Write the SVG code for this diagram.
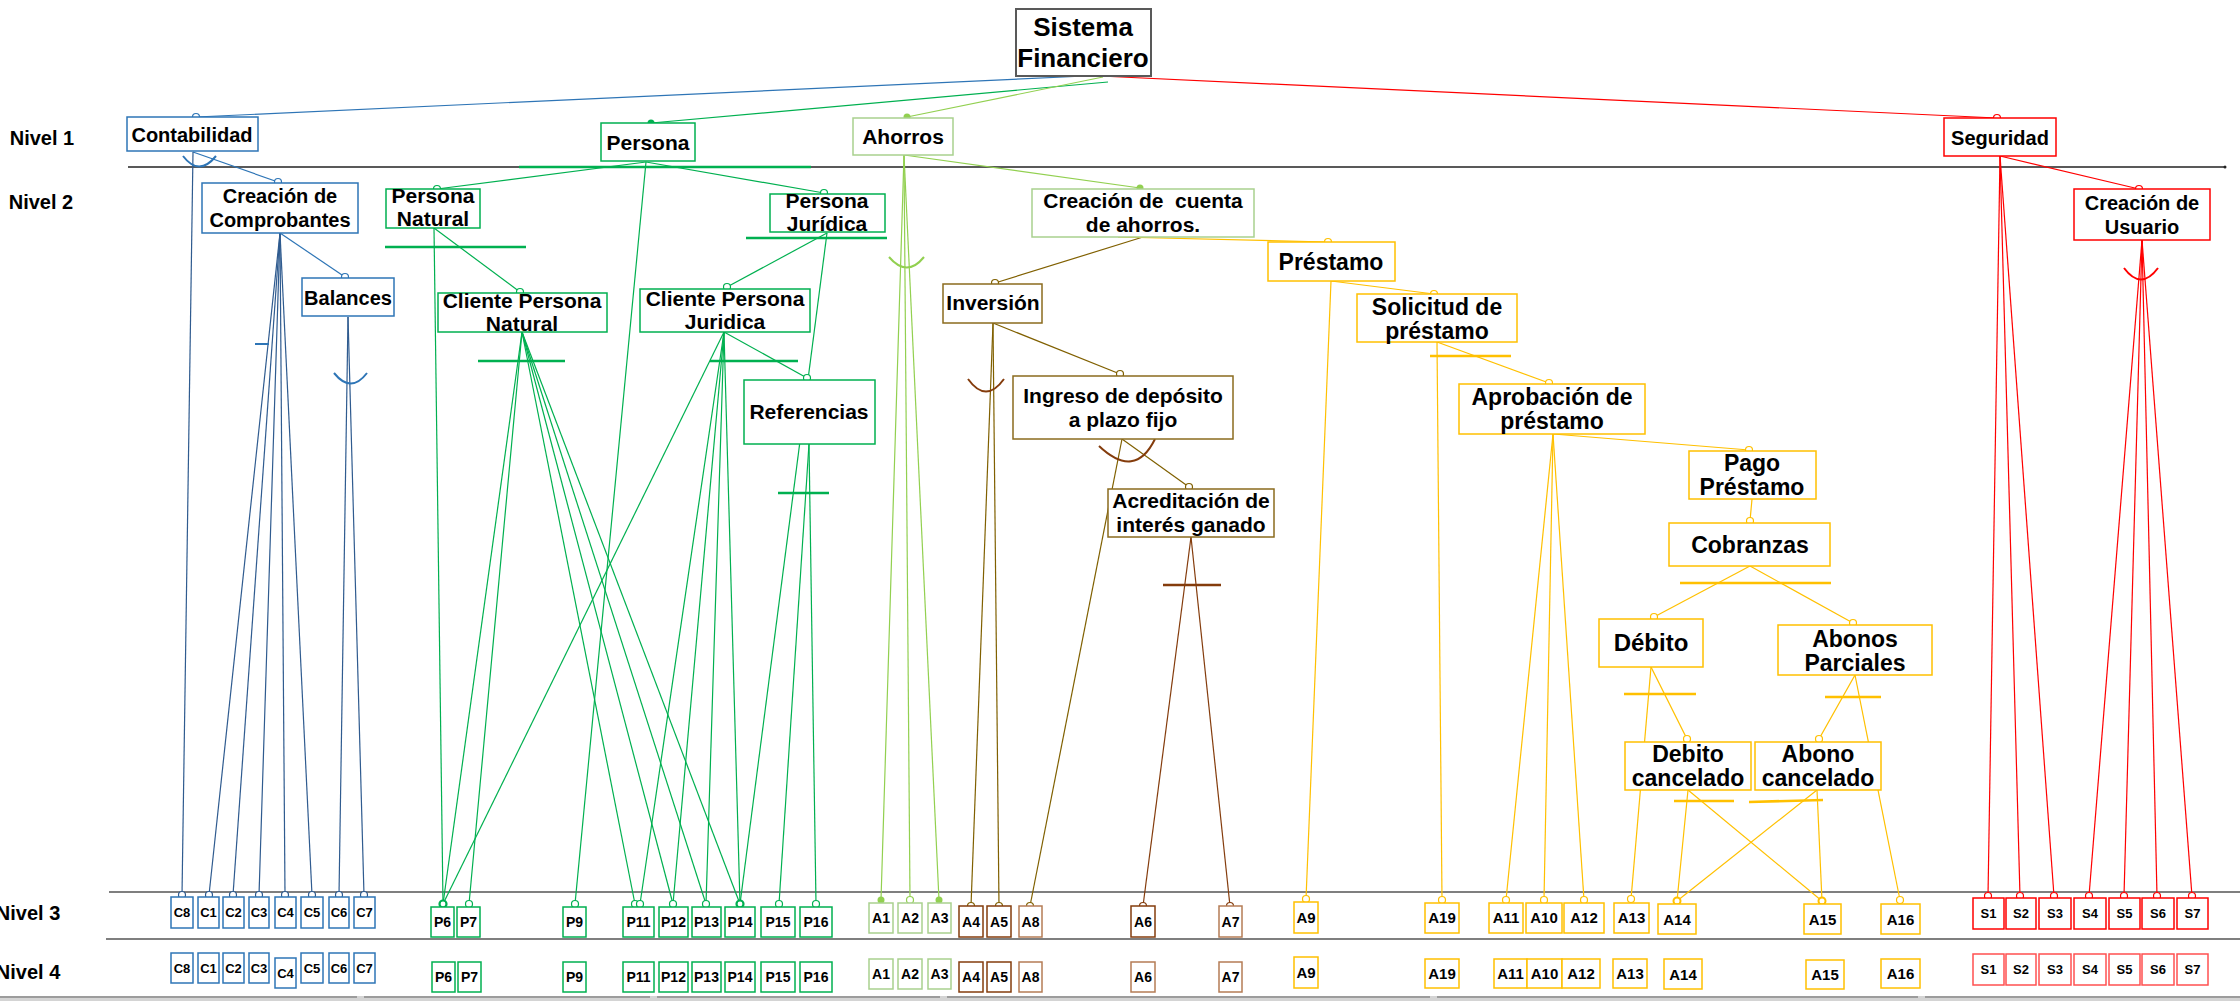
<svg xmlns="http://www.w3.org/2000/svg" width="2240" height="1001" viewBox="0 0 2240 1001">
<style>
.t{font-family:"Liberation Sans",Arial,sans-serif;font-weight:bold;fill:#000;text-anchor:middle}
.n{font-size:21px}.y{font-size:23px}.s{font-size:13px}.m{font-size:14px}.l{font-size:15px}
rect{fill:#fff;stroke-width:1.5}
line,path{fill:none;stroke-width:1.2}
circle{fill:#fff;stroke-width:1.2}
.kb{stroke:#2E75B6}.lb{stroke:#2F5B8F}
.kg{stroke:#00B050}.kl{stroke:#A9D18E}.ll{stroke:#92D050}
.ko{stroke:#8B6B1E}.lo{stroke:#806000}.kr{stroke:#843C0C}.kt{stroke:#B57C55}
.ky{stroke:#FFC000}.kred{stroke:#FF0000}.kp{stroke:#FF5050}
.bar{stroke-width:2.6}
.f{stroke:none}
</style>
<rect x="0" y="0" width="2240" height="1001" style="fill:#fff;stroke:none"/>
<g id="levels">
<line x1="128" y1="167" x2="2224" y2="167" style="stroke:#222;stroke-width:1.3"/>
<circle cx="2225" cy="167" r="1.5" style="fill:#222;stroke:none"/>
<line x1="109" y1="892" x2="2240" y2="892" style="stroke:#7f7f7f;stroke-width:2.2"/>
<line x1="106" y1="939" x2="2240" y2="939" style="stroke:#7f7f7f;stroke-width:2.2"/>
<rect x="0" y="996" width="2240" height="5" style="fill:#d4d4d4;stroke:none"/>
<line x1="0" y1="997" x2="357" y2="997" style="stroke:#8a8a8a;stroke-width:1.5"/>
<line x1="364" y1="997" x2="650" y2="997" style="stroke:#8a8a8a;stroke-width:1.5"/>
<line x1="657" y1="997" x2="940" y2="997" style="stroke:#8a8a8a;stroke-width:1.5"/>
<line x1="947" y1="997" x2="1430" y2="997" style="stroke:#8a8a8a;stroke-width:1.5"/>
<line x1="1437" y1="997" x2="1918" y2="997" style="stroke:#8a8a8a;stroke-width:1.5"/>
<line x1="1925" y1="997" x2="2240" y2="997" style="stroke:#8a8a8a;stroke-width:1.5"/>
<text class="t" x="42" y="145" style="font-size:20px">Nivel 1</text>
<text class="t" x="41" y="209" style="font-size:20px">Nivel 2</text>
<text class="t" x="28" y="920" style="font-size:20px">Nivel 3</text>
<text class="t" x="28" y="979" style="font-size:20px">Nivel 4</text>
</g>
<g id="connectors">
<!-- root -->
<line class="kb" x1="1085" y1="76" x2="196" y2="117"/>
<line class="kg" x1="1108" y1="82" x2="651" y2="123"/>
<line class="ll" x1="1103" y1="77" x2="907" y2="117"/>
<line class="kred" x1="1100" y1="76" x2="1997" y2="118"/>
<!-- contabilidad -->
<line class="kb" x1="193" y1="152" x2="278" y2="182"/>
<line class="lb" x1="193" y1="152" x2="182" y2="895"/>
<line class="lb" x1="280" y1="233" x2="209" y2="895"/>
<line class="lb" x1="280" y1="233" x2="233" y2="895"/>
<line class="lb" x1="280" y1="233" x2="259" y2="895"/>
<line class="lb" x1="280" y1="233" x2="285" y2="895"/>
<line class="lb" x1="280" y1="233" x2="312" y2="895"/>
<line class="kb" x1="280" y1="233" x2="345" y2="277"/>
<line class="lb" x1="348" y1="317" x2="339" y2="895"/>
<line class="lb" x1="348" y1="317" x2="364" y2="895"/>
<path class="kb" d="M183,156 Q199,177 216,156" style="stroke-width:2"/>
<path class="kb" d="M334,373 Q351,394 367,373" style="stroke-width:2"/>
<line class="kb bar" x1="255" y1="344" x2="269" y2="344" style="stroke-width:2"/>
<!-- persona -->
<line class="kg bar" x1="519" y1="167" x2="811" y2="167"/>
<line class="kg" x1="646" y1="162" x2="437" y2="189"/>
<line class="kg" x1="646" y1="162" x2="824" y2="193"/>
<line class="kg" x1="646" y1="162" x2="575" y2="904"/>
<line class="kg bar" x1="385" y1="247" x2="526" y2="247"/>
<line class="kg" x1="434" y1="228" x2="520" y2="292"/>
<line class="kg" x1="434" y1="228" x2="443" y2="904"/>
<line class="kg bar" x1="746" y1="238" x2="887" y2="238"/>
<line class="kg" x1="827" y1="233" x2="727" y2="287"/>
<line class="kg" x1="827" y1="233" x2="740" y2="904"/>
<line class="kg bar" x1="478" y1="361" x2="565" y2="361"/>
<line class="kg" x1="522" y1="332" x2="443" y2="904"/>
<line class="kg" x1="522" y1="332" x2="469" y2="904"/>
<line class="kg" x1="522" y1="332" x2="635" y2="904"/>
<line class="kg" x1="522" y1="332" x2="673" y2="904"/>
<line class="kg" x1="522" y1="332" x2="706" y2="904"/>
<line class="kg" x1="522" y1="332" x2="740" y2="904"/>
<line class="kg bar" x1="710" y1="361" x2="798" y2="361"/>
<line class="kg" x1="724" y1="332" x2="443" y2="904"/>
<line class="kg" x1="724" y1="332" x2="640" y2="904"/>
<line class="kg" x1="724" y1="332" x2="673" y2="904"/>
<line class="kg" x1="724" y1="332" x2="706" y2="904"/>
<line class="kg" x1="724" y1="332" x2="740" y2="904"/>
<line class="kg" x1="724" y1="332" x2="807" y2="378"/>
<line class="kg bar" x1="778" y1="493" x2="829" y2="493"/>
<line class="kg" x1="809" y1="444" x2="779" y2="904"/>
<line class="kg" x1="809" y1="444" x2="816" y2="904"/>
<!-- ahorros -->
<line class="ll" x1="904" y1="155" x2="1140" y2="188"/>
<line class="ll" x1="904" y1="155" x2="881" y2="900"/>
<line class="ll" x1="904" y1="155" x2="910" y2="900"/>
<line class="ll" x1="904" y1="155" x2="939" y2="900"/>
<path class="ll" d="M889,257 Q907,278 924,257" style="stroke-width:2"/>
<line class="lo" x1="1143" y1="237" x2="995" y2="283"/>
<line class="ky" x1="1118" y1="237" x2="1328" y2="242"/>
<line class="lo" x1="993" y1="323" x2="1120" y2="374"/>
<line class="lo" x1="993" y1="323" x2="971" y2="906"/>
<line class="lo" x1="993" y1="323" x2="999" y2="906"/>
<path class="kr" d="M968,379 Q986,404 1004,379" style="stroke-width:2"/>
<line class="lo" x1="1122" y1="439" x2="1189" y2="487"/>
<line class="lo" x1="1122" y1="439" x2="1030" y2="906"/>
<path class="kr" d="M1099,446 Q1135,480 1155,439" style="stroke-width:2"/>
<line class="kr" x1="1191" y1="537" x2="1143" y2="906"/>
<line class="kr" x1="1191" y1="537" x2="1230" y2="906"/>
<line class="kr bar" x1="1163" y1="585" x2="1221" y2="585"/>
<!-- prestamo -->
<line class="ky" x1="1331" y1="281" x2="1434" y2="294"/>
<line class="ky" x1="1331" y1="281" x2="1306" y2="899"/>
<line class="ky bar" x1="1430" y1="356" x2="1511" y2="356"/>
<line class="ky" x1="1437" y1="342" x2="1442" y2="900"/>
<line class="ky" x1="1437" y1="342" x2="1549" y2="383"/>
<line class="ky" x1="1553" y1="434" x2="1749" y2="450"/>
<line class="ky" x1="1553" y1="434" x2="1506" y2="900"/>
<line class="ky" x1="1553" y1="434" x2="1544" y2="900"/>
<line class="ky" x1="1553" y1="434" x2="1584" y2="900"/>
<line class="ky" x1="1752" y1="499" x2="1750" y2="521"/>
<line class="ky bar" x1="1680" y1="583" x2="1831" y2="583"/>
<line class="ky" x1="1750" y1="566" x2="1654" y2="617"/>
<line class="ky" x1="1750" y1="566" x2="1853" y2="623"/>
<line class="ky bar" x1="1624" y1="694" x2="1696" y2="694"/>
<line class="ky" x1="1651" y1="667" x2="1687" y2="739"/>
<line class="ky" x1="1651" y1="667" x2="1631" y2="899"/>
<line class="ky bar" x1="1825" y1="697" x2="1881" y2="697"/>
<line class="ky" x1="1855" y1="675" x2="1819" y2="739"/>
<line class="ky" x1="1855" y1="675" x2="1900" y2="900"/>
<line class="ky bar" x1="1674" y1="801" x2="1734" y2="801"/>
<line class="ky bar" x1="1749" y1="802" x2="1823" y2="800"/>
<line class="ky" x1="1688" y1="790" x2="1677" y2="901"/>
<line class="ky" x1="1688" y1="790" x2="1822" y2="901"/>
<line class="ky" x1="1817" y1="790" x2="1677" y2="901"/>
<line class="ky" x1="1817" y1="790" x2="1822" y2="901"/>
<!-- seguridad -->
<line class="kred" x1="2000" y1="156" x2="2139" y2="189"/>
<line class="kred" x1="2000" y1="156" x2="1988" y2="896"/>
<line class="kred" x1="2000" y1="156" x2="2020" y2="896"/>
<line class="kred" x1="2000" y1="156" x2="2054" y2="896"/>
<line class="kred" x1="2142" y1="240" x2="2089" y2="896"/>
<line class="kred" x1="2142" y1="240" x2="2124" y2="896"/>
<line class="kred" x1="2142" y1="240" x2="2157" y2="896"/>
<line class="kred" x1="2142" y1="240" x2="2192" y2="896"/>
<path class="kred" d="M2124,268 Q2141,291 2158,268" style="stroke-width:2"/>
<!-- end markers -->
<circle class="kb" cx="196" cy="117" r="3.5"/>
<circle class="kg f" cx="651" cy="123" r="3.5" style="fill:#00B050"/>
<circle class="ll f" cx="907" cy="117" r="3.5" style="fill:#92D050"/>
<circle class="kred" cx="1997" cy="118" r="3.5"/>
<circle class="kb" cx="278" cy="182" r="3.5"/>
<circle class="kb" cx="345" cy="277" r="3.5"/>
<circle class="kg" cx="437" cy="189" r="3.5"/>
<circle class="kg" cx="824" cy="193" r="3.5"/>
<circle class="kg" cx="520" cy="292" r="3.5"/>
<circle class="kg" cx="727" cy="287" r="3.5"/>
<circle class="kg" cx="807" cy="378" r="3.5"/>
<circle class="ll f" cx="1140" cy="188" r="3.5" style="fill:#92D050"/>
<circle class="lo" cx="995" cy="283" r="3.5"/>
<circle class="ky" cx="1328" cy="242" r="3.5"/>
<circle class="lo" cx="1120" cy="374" r="3.5"/>
<circle class="lo" cx="1189" cy="487" r="3.5"/>
<circle class="ky" cx="1434" cy="294" r="3.5"/>
<circle class="ky" cx="1549" cy="383" r="3.5"/>
<circle class="ky" cx="1749" cy="450" r="3.5"/>
<circle class="ky" cx="1750" cy="521" r="3.5"/>
<circle class="ky" cx="1654" cy="617" r="3.5"/>
<circle class="ky" cx="1853" cy="623" r="3.5"/>
<circle class="ky" cx="1687" cy="739" r="3.5"/>
<circle class="ky" cx="1819" cy="739" r="3.5"/>
<circle class="kred" cx="2139" cy="189" r="3.5"/>
<circle class="lb" cx="182" cy="895" r="3.5"/>
<circle class="lb" cx="209" cy="895" r="3.5"/>
<circle class="lb" cx="233" cy="895" r="3.5"/>
<circle class="lb" cx="259" cy="895" r="3.5"/>
<circle class="lb" cx="285" cy="895" r="3.5"/>
<circle class="lb" cx="312" cy="895" r="3.5"/>
<circle class="lb" cx="339" cy="895" r="3.5"/>
<circle class="lb" cx="364" cy="895" r="3.5"/>
<circle class="kg" cx="443" cy="904" r="3.5" style="stroke-width:2.2"/>
<circle class="kg" cx="469" cy="904" r="3.5"/>
<circle class="kg" cx="575" cy="904" r="3.5"/>
<circle class="kg" cx="635" cy="904" r="3.5"/>
<circle class="kg" cx="640" cy="904" r="3.5"/>
<circle class="kg" cx="673" cy="904" r="3.5"/>
<circle class="kg" cx="706" cy="904" r="3.5"/>
<circle class="kg" cx="740" cy="904" r="3.5" style="stroke-width:2.2"/>
<circle class="kg" cx="779" cy="904" r="3.5"/>
<circle class="kg" cx="816" cy="904" r="3.5"/>
<circle class="ll f" cx="881" cy="900" r="3.5" style="fill:#92D050"/>
<circle class="ll" cx="910" cy="900" r="3.5"/>
<circle class="ll f" cx="939" cy="900" r="3.5" style="fill:#92D050"/>
<circle class="lo" cx="971" cy="906" r="3.5"/>
<circle class="lo" cx="999" cy="906" r="3.5"/>
<circle class="lo" cx="1030" cy="906" r="3.5"/>
<circle class="kr" cx="1143" cy="906" r="3.5"/>
<circle class="kr" cx="1230" cy="906" r="3.5"/>
<circle class="ky" cx="1306" cy="899" r="3.5"/>
<circle class="ky" cx="1442" cy="900" r="3.5"/>
<circle class="ky" cx="1506" cy="900" r="3.5"/>
<circle class="ky" cx="1544" cy="900" r="3.5"/>
<circle class="ky" cx="1584" cy="900" r="3.5"/>
<circle class="ky" cx="1631" cy="899" r="3.5"/>
<circle class="ky" cx="1677" cy="901" r="3.5" style="stroke-width:2"/>
<circle class="ky" cx="1822" cy="901" r="3.5" style="stroke-width:2"/>
<circle class="ky" cx="1900" cy="900" r="3.5"/>
<circle class="kred" cx="1988" cy="896" r="3.5"/>
<circle class="kred" cx="2020" cy="896" r="3.5"/>
<circle class="kred" cx="2054" cy="896" r="3.5"/>
<circle class="kred" cx="2089" cy="896" r="3.5"/>
<circle class="kred" cx="2124" cy="896" r="3.5"/>
<circle class="kred" cx="2157" cy="896" r="3.5"/>
<circle class="kred" cx="2192" cy="896" r="3.5"/>
</g>
<g id="sistema"><rect x="1016" y="9" width="135" height="67" style="stroke:#595959;stroke-width:2"/><text class="t" x="1083" y="36" style="font-size:26px">Sistema</text><text class="t" x="1083" y="67" style="font-size:26px">Financiero</text></g>
<g id="contabilidad"><rect class="kb" x="127" y="117" width="131" height="34"/><text class="t" x="192" y="142" style="font-size:20px">Contabilidad</text></g>
<g id="persona"><rect class="kg" x="601" y="123" width="94" height="38"/><text class="t n" x="648" y="150">Persona</text></g>
<g id="ahorros"><rect class="kl" x="853" y="118" width="100" height="37"/><text class="t n" x="903" y="144">Ahorros</text></g>
<g id="seguridad"><rect class="kred" x="1944" y="118" width="112" height="38"/><text class="t" x="2000" y="145" style="font-size:20px">Seguridad</text></g>
<g id="comprobantes"><rect class="kb" x="202" y="183" width="156" height="50"/><text class="t" x="280" y="203" style="font-size:20px">Creación de</text><text class="t" x="280" y="227" style="font-size:20px">Comprobantes</text></g>
<g id="persona-natural"><rect class="kg" x="386" y="189" width="94" height="39"/><text class="t n" x="433" y="203">Persona</text><text class="t n" x="433" y="226">Natural</text></g>
<g id="persona-juridica"><rect class="kg" x="770" y="194" width="115" height="38"/><text class="t n" x="827" y="208">Persona</text><text class="t n" x="827" y="231">Jurídica</text></g>
<g id="cuenta-ahorros"><rect class="kl" x="1032" y="189" width="222" height="48"/><text class="t n" x="1143" y="208">Creación de&#160; cuenta</text><text class="t n" x="1143" y="232">de ahorros.</text></g>
<g id="creacion-usuario"><rect class="kred" x="2074" y="189" width="136" height="51"/><text class="t" x="2142" y="210" style="font-size:20px">Creación de</text><text class="t" x="2142" y="234" style="font-size:20px">Usuario</text></g>
<g id="balances"><rect class="kb" x="302" y="278" width="92" height="38"/><text class="t" x="348" y="305" style="font-size:20px">Balances</text></g>
<g id="cliente-natural"><rect class="kg" x="438" y="293" width="169" height="39"/><text class="t n" x="522" y="308">Cliente Persona</text><text class="t n" x="522" y="331">Natural</text></g>
<g id="cliente-juridica"><rect class="kg" x="640" y="289" width="170" height="43"/><text class="t n" x="725" y="306">Cliente Persona</text><text class="t n" x="725" y="329">Juridica</text></g>
<g id="referencias"><rect class="kg" x="744" y="380" width="131" height="64"/><text class="t n" x="809" y="419">Referencias</text></g>
<g id="inversion"><rect class="ko" x="943" y="284" width="99" height="39"/><text class="t n" x="993" y="310">Inversión</text></g>
<g id="ingreso"><rect class="ko" x="1013" y="376" width="220" height="63"/><text class="t n" x="1123" y="403">Ingreso de depósito</text><text class="t n" x="1123" y="427">a plazo fijo</text></g>
<g id="acreditacion"><rect class="ko" x="1108" y="489" width="166" height="48"/><text class="t n" x="1191" y="508">Acreditación de</text><text class="t n" x="1191" y="532">interés ganado</text></g>
<g id="prestamo"><rect class="ky" x="1268" y="242" width="127" height="39"/><text class="t y" x="1331" y="270">Préstamo</text></g>
<g id="solicitud"><rect class="ky" x="1357" y="294" width="160" height="48"/><text class="t y" x="1437" y="315">Solicitud de</text><text class="t y" x="1437" y="339">préstamo</text></g>
<g id="aprobacion"><rect class="ky" x="1459" y="384" width="186" height="50"/><text class="t y" x="1552" y="405">Aprobación de</text><text class="t y" x="1552" y="429">préstamo</text></g>
<g id="pago"><rect class="ky" x="1689" y="451" width="127" height="48"/><text class="t y" x="1752" y="471">Pago</text><text class="t y" x="1752" y="495">Préstamo</text></g>
<g id="cobranzas"><rect class="ky" x="1669" y="523" width="161" height="43"/><text class="t y" x="1750" y="553">Cobranzas</text></g>
<g id="debito"><rect class="ky" x="1599" y="619" width="104" height="48"/><text class="t" x="1651" y="651" style="font-size:24px">Débito</text></g>
<g id="abonos"><rect class="ky" x="1778" y="625" width="154" height="50"/><text class="t y" x="1855" y="647">Abonos</text><text class="t y" x="1855" y="671">Parciales</text></g>
<g id="debito-cancelado"><rect class="ky" x="1625" y="742" width="126" height="48"/><text class="t y" x="1688" y="762">Debito</text><text class="t y" x="1688" y="786">cancelado</text></g>
<g id="abono-cancelado"><rect class="ky" x="1755" y="742" width="126" height="48"/><text class="t y" x="1818" y="762">Abono</text><text class="t y" x="1818" y="786">cancelado</text></g>
<!-- level 3 -->
<g id="n3-C8"><rect class="kb" x="171" y="897" width="22" height="31"/><text class="t s" x="182" y="917">C8</text></g>
<g id="n3-C1"><rect class="kb" x="198" y="897" width="21" height="31"/><text class="t s" x="208.5" y="917">C1</text></g>
<g id="n3-C2"><rect class="kb" x="223" y="897" width="21" height="31"/><text class="t s" x="233.5" y="917">C2</text></g>
<g id="n3-C3"><rect class="kb" x="249" y="897" width="20" height="31"/><text class="t s" x="259" y="917">C3</text></g>
<g id="n3-C4"><rect class="kb" x="275" y="897" width="21" height="31"/><text class="t s" x="285.5" y="917">C4</text></g>
<g id="n3-C5"><rect class="kb" x="301" y="897" width="22" height="31"/><text class="t s" x="312" y="917">C5</text></g>
<g id="n3-C6"><rect class="kb" x="329" y="897" width="20" height="31"/><text class="t s" x="339" y="917">C6</text></g>
<g id="n3-C7"><rect class="kb" x="354" y="897" width="21" height="31"/><text class="t s" x="364.5" y="917">C7</text></g>
<g id="n3-P6"><rect class="kg" x="431" y="907" width="23" height="30"/><text class="t m" x="442.5" y="927">P6</text></g>
<g id="n3-P7"><rect class="kg" x="457" y="907" width="23" height="30"/><text class="t m" x="468.5" y="927">P7</text></g>
<g id="n3-P9"><rect class="kg" x="563" y="907" width="23" height="30"/><text class="t m" x="574.5" y="927">P9</text></g>
<g id="n3-P11"><rect class="kg" x="623" y="907" width="31" height="30"/><text class="t m" x="638.5" y="927">P11</text></g>
<g id="n3-P12"><rect class="kg" x="659" y="907" width="29" height="30"/><text class="t m" x="673.5" y="927">P12</text></g>
<g id="n3-P13"><rect class="kg" x="692" y="907" width="29" height="30"/><text class="t m" x="706.5" y="927">P13</text></g>
<g id="n3-P14"><rect class="kg" x="725" y="907" width="30" height="30"/><text class="t m" x="740" y="927">P14</text></g>
<g id="n3-P15"><rect class="kg" x="761" y="907" width="34" height="30"/><text class="t m" x="778" y="927">P15</text></g>
<g id="n3-P16"><rect class="kg" x="800" y="907" width="32" height="30"/><text class="t m" x="816" y="927">P16</text></g>
<g id="n3-A1"><rect class="kl" x="869" y="903" width="24" height="30"/><text class="t m" x="881" y="923">A1</text></g>
<g id="n3-A2"><rect class="kl" x="898" y="903" width="24" height="30"/><text class="t m" x="910" y="923">A2</text></g>
<g id="n3-A3"><rect class="kl" x="928" y="903" width="23" height="30"/><text class="t m" x="939.5" y="923">A3</text></g>
<g id="n3-A4"><rect class="kr" x="959" y="906" width="24" height="31"/><text class="t m" x="971" y="927">A4</text></g>
<g id="n3-A5"><rect class="kr" x="987" y="906" width="24" height="31"/><text class="t m" x="999" y="927">A5</text></g>
<g id="n3-A8"><rect class="kt" x="1019" y="906" width="23" height="31"/><text class="t m" x="1030.5" y="927">A8</text></g>
<g id="n3-A6"><rect class="kr" x="1131" y="906" width="24" height="31"/><text class="t m" x="1143" y="927">A6</text></g>
<g id="n3-A7"><rect class="kt" x="1219" y="906" width="23" height="31"/><text class="t m" x="1230.5" y="927">A7</text></g>
<g id="n3-A9"><rect class="ky" x="1294" y="902" width="24" height="31"/><text class="t l" x="1306" y="923">A9</text></g>
<g id="n3-A19"><rect class="ky" x="1425" y="903" width="34" height="30"/><text class="t l" x="1442" y="923">A19</text></g>
<g id="n3-A11"><rect class="ky" x="1489" y="903" width="34" height="30"/><text class="t l" x="1506" y="923">A11</text></g>
<g id="n3-A10"><rect class="ky" x="1526" y="903" width="36" height="30"/><text class="t l" x="1544" y="923">A10</text></g>
<g id="n3-A12"><rect class="ky" x="1564" y="903" width="40" height="30"/><text class="t l" x="1584" y="923">A12</text></g>
<g id="n3-A13"><rect class="ky" x="1614" y="903" width="35" height="30"/><text class="t l" x="1631.5" y="923">A13</text></g>
<g id="n3-A14"><rect class="ky" x="1658" y="904" width="38" height="30"/><text class="t l" x="1677" y="925">A14</text></g>
<g id="n3-A15"><rect class="ky" x="1804" y="904" width="37" height="30"/><text class="t l" x="1822.5" y="925">A15</text></g>
<g id="n3-A16"><rect class="ky" x="1881" y="904" width="39" height="30"/><text class="t l" x="1900.5" y="925">A16</text></g>
<g id="n3-S1"><rect class="kred" x="1973" y="898" width="31" height="31"/><text class="t s" x="1988.5" y="918">S1</text></g>
<g id="n3-S2"><rect class="kred" x="2006" y="898" width="30" height="31"/><text class="t s" x="2021" y="918">S2</text></g>
<g id="n3-S3"><rect class="kred" x="2039" y="898" width="32" height="31"/><text class="t s" x="2055" y="918">S3</text></g>
<g id="n3-S4"><rect class="kred" x="2074" y="898" width="32" height="31"/><text class="t s" x="2090" y="918">S4</text></g>
<g id="n3-S5"><rect class="kred" x="2109" y="898" width="31" height="31"/><text class="t s" x="2124.5" y="918">S5</text></g>
<g id="n3-S6"><rect class="kred" x="2142" y="898" width="32" height="31"/><text class="t s" x="2158" y="918">S6</text></g>
<g id="n3-S7"><rect class="kred" x="2177" y="898" width="31" height="31"/><text class="t s" x="2192.5" y="918">S7</text></g>
<!-- level 4 -->
<g id="n4-C8"><rect class="kb" x="171" y="953" width="22" height="30"/><text class="t s" x="182" y="973">C8</text></g>
<g id="n4-C1"><rect class="kb" x="198" y="953" width="21" height="30"/><text class="t s" x="208.5" y="973">C1</text></g>
<g id="n4-C2"><rect class="kb" x="223" y="953" width="21" height="30"/><text class="t s" x="233.5" y="973">C2</text></g>
<g id="n4-C3"><rect class="kb" x="249" y="953" width="20" height="30"/><text class="t s" x="259" y="973">C3</text></g>
<g id="n4-C4"><rect class="kb" x="275" y="958" width="21" height="30"/><text class="t s" x="285.5" y="978">C4</text></g>
<g id="n4-C5"><rect class="kb" x="301" y="953" width="22" height="30"/><text class="t s" x="312" y="973">C5</text></g>
<g id="n4-C6"><rect class="kb" x="329" y="953" width="20" height="30"/><text class="t s" x="339" y="973">C6</text></g>
<g id="n4-C7"><rect class="kb" x="354" y="953" width="21" height="30"/><text class="t s" x="364.5" y="973">C7</text></g>
<g id="n4-P6"><rect class="kg" x="432" y="962" width="23" height="30"/><text class="t m" x="443.5" y="982">P6</text></g>
<g id="n4-P7"><rect class="kg" x="458" y="962" width="23" height="30"/><text class="t m" x="469.5" y="982">P7</text></g>
<g id="n4-P9"><rect class="kg" x="563" y="962" width="23" height="30"/><text class="t m" x="574.5" y="982">P9</text></g>
<g id="n4-P11"><rect class="kg" x="623" y="962" width="31" height="30"/><text class="t m" x="638.5" y="982">P11</text></g>
<g id="n4-P12"><rect class="kg" x="659" y="962" width="29" height="30"/><text class="t m" x="673.5" y="982">P12</text></g>
<g id="n4-P13"><rect class="kg" x="692" y="962" width="29" height="30"/><text class="t m" x="706.5" y="982">P13</text></g>
<g id="n4-P14"><rect class="kg" x="725" y="962" width="30" height="30"/><text class="t m" x="740" y="982">P14</text></g>
<g id="n4-P15"><rect class="kg" x="761" y="962" width="34" height="30"/><text class="t m" x="778" y="982">P15</text></g>
<g id="n4-P16"><rect class="kg" x="800" y="962" width="32" height="30"/><text class="t m" x="816" y="982">P16</text></g>
<g id="n4-A1"><rect class="kl" x="869" y="959" width="24" height="30"/><text class="t m" x="881" y="979">A1</text></g>
<g id="n4-A2"><rect class="kl" x="898" y="959" width="24" height="30"/><text class="t m" x="910" y="979">A2</text></g>
<g id="n4-A3"><rect class="kl" x="928" y="959" width="23" height="30"/><text class="t m" x="939.5" y="979">A3</text></g>
<g id="n4-A4"><rect class="kr" x="959" y="962" width="24" height="30"/><text class="t m" x="971" y="982">A4</text></g>
<g id="n4-A5"><rect class="kr" x="987" y="962" width="24" height="30"/><text class="t m" x="999" y="982">A5</text></g>
<g id="n4-A8"><rect class="kt" x="1019" y="962" width="23" height="30"/><text class="t m" x="1030.5" y="982">A8</text></g>
<g id="n4-A6"><rect class="kt" x="1131" y="962" width="24" height="30"/><text class="t m" x="1143" y="982">A6</text></g>
<g id="n4-A7"><rect class="kt" x="1219" y="962" width="23" height="30"/><text class="t m" x="1230.5" y="982">A7</text></g>
<g id="n4-A9"><rect class="ky" x="1294" y="957" width="24" height="31"/><text class="t l" x="1306" y="978">A9</text></g>
<g id="n4-A19"><rect class="ky" x="1425" y="959" width="34" height="29"/><text class="t l" x="1442" y="979">A19</text></g>
<g id="n4-A11"><rect class="ky" x="1494" y="959" width="33" height="29"/><text class="t l" x="1510.5" y="979">A11</text></g>
<g id="n4-A10"><rect class="ky" x="1527" y="959" width="35" height="29"/><text class="t l" x="1544.5" y="979">A10</text></g>
<g id="n4-A12"><rect class="ky" x="1562" y="959" width="38" height="29"/><text class="t l" x="1581" y="979">A12</text></g>
<g id="n4-A13"><rect class="ky" x="1613" y="959" width="34" height="29"/><text class="t l" x="1630" y="979">A13</text></g>
<g id="n4-A14"><rect class="ky" x="1664" y="959" width="38" height="30"/><text class="t l" x="1683" y="980">A14</text></g>
<g id="n4-A15"><rect class="ky" x="1806" y="960" width="38" height="29"/><text class="t l" x="1825" y="980">A15</text></g>
<g id="n4-A16"><rect class="ky" x="1881" y="959" width="39" height="29"/><text class="t l" x="1900.5" y="979">A16</text></g>
<g id="n4-S1"><rect class="kp" x="1973" y="954" width="31" height="31"/><text class="t s" x="1988.5" y="974">S1</text></g>
<g id="n4-S2"><rect class="kp" x="2006" y="954" width="30" height="31"/><text class="t s" x="2021" y="974">S2</text></g>
<g id="n4-S3"><rect class="kp" x="2039" y="954" width="32" height="31"/><text class="t s" x="2055" y="974">S3</text></g>
<g id="n4-S4"><rect class="kp" x="2074" y="954" width="32" height="31"/><text class="t s" x="2090" y="974">S4</text></g>
<g id="n4-S5"><rect class="kp" x="2109" y="954" width="31" height="31"/><text class="t s" x="2124.5" y="974">S5</text></g>
<g id="n4-S6"><rect class="kp" x="2142" y="954" width="32" height="31"/><text class="t s" x="2158" y="974">S6</text></g>
<g id="n4-S7"><rect class="kp" x="2177" y="954" width="31" height="31"/><text class="t s" x="2192.5" y="974">S7</text></g>
</svg>
